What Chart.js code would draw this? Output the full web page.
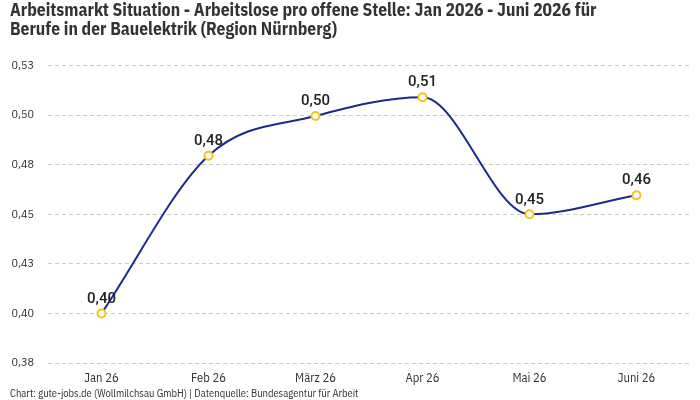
<!DOCTYPE html>
<html>
<head>
<meta charset="utf-8">
<script src="https://cdn.jsdelivr.net/npm/chart.js@4"></script>
<style>
  html, body { margin: 0; padding: 0; background: #fff; }
  #wrap { width: 700px; height: 400px; }
</style>
</head>
<body>
<div id="wrap"><canvas id="chart"></canvas></div>
<script>
// Data
const months = ['Jan 26', 'Feb 26', 'März 26', 'Apr 26', 'Mai 26', 'Juni 26'];
const ratio = [0.400, 0.4795, 0.4995, 0.509, 0.450, 0.4596];
const yMin = 0.375;
const yMax = 0.525;
const yStep = 0.025;

const condensed = "'IBM Plex Sans Condensed', 'Liberation Sans Narrow', 'Roboto Condensed', Roboto, sans-serif";
const fmt = (v, d) => (v + 1e-9).toFixed(d).replace('.', ',');

// value labels above points
const pointLabels = {
    id: 'pointLabels',
    afterDatasetsDraw(chart) {
        const ctx = chart.ctx;
        const meta = chart.getDatasetMeta(0);
        ctx.save();
        ctx.font = '500 15px Roboto, sans-serif';
        ctx.fillStyle = '#222';
        ctx.textAlign = 'center';
        ctx.textBaseline = 'bottom';
        meta.data.forEach((pt, i) => {
            ctx.fillText(fmt(ratio[i], 2), pt.x, pt.y - 7);
        });
        ctx.restore();
    }
};

new Chart(document.getElementById('chart'), {
    type: 'line',
    data: {
        labels: months,
        datasets: [{
            data: ratio,
            borderColor: '#1b2a8f',
            borderWidth: 2,
            cubicInterpolationMode: 'monotone',
            pointRadius: 4,
            pointBorderWidth: 2,
            pointBackgroundColor: '#fff',
            pointBorderColor: '#f7c21b',
            fill: false
        }]
    },
    options: {
        responsive: true,
        maintainAspectRatio: false,
        animation: false,
        layout: { padding: { left: 10, right: 10, top: 0, bottom: 1 } },
        plugins: {
            legend: { display: false },
            tooltip: { enabled: false },
            title: {
                display: true,
                text: ['Arbeitsmarkt Situation - Arbeitslose pro offene Stelle: Jan 2026 - Juni 2026 für',
                       'Berufe in der Bauelektrik (Region Nürnberg)'],
                align: 'start',
                color: '#333',
                font: { family: condensed, size: 17.5, weight: 'bold', lineHeight: 1.1 },
                padding: { top: 1, bottom: 26 }
            },
            subtitle: {
                display: true,
                position: 'bottom',
                text: 'Chart: gute-jobs.de (Wollmilchsau GmbH) | Datenquelle: Bundesagentur für Arbeit',
                align: 'start',
                color: '#333',
                font: { family: condensed, size: 10.5, lineHeight: 1 },
                padding: { top: 3, bottom: 0 }
            }
        },
        scales: {
            x: {
                offset: true,
                grid: { display: false },
                border: { display: false },
                ticks: { color: '#333', font: { family: condensed, size: 12.5, lineHeight: 1 }, padding: 1 }
            },
            y: {
                min: yMin,
                max: yMax,
                border: { display: false, dash: [4, 3] },
                grid: { color: '#cccccc', lineWidth: 1, drawTicks: false },
                afterFit: scale => { scale.width = 38; },
                ticks: {
                    stepSize: yStep,
                    color: '#333',
                    font: { family: condensed, size: 12 },
                    padding: 14,
                    callback: v => fmt(v, 2)
                }
            }
        }
    },
    plugins: [pointLabels]
});
</script>
</body>
</html>
